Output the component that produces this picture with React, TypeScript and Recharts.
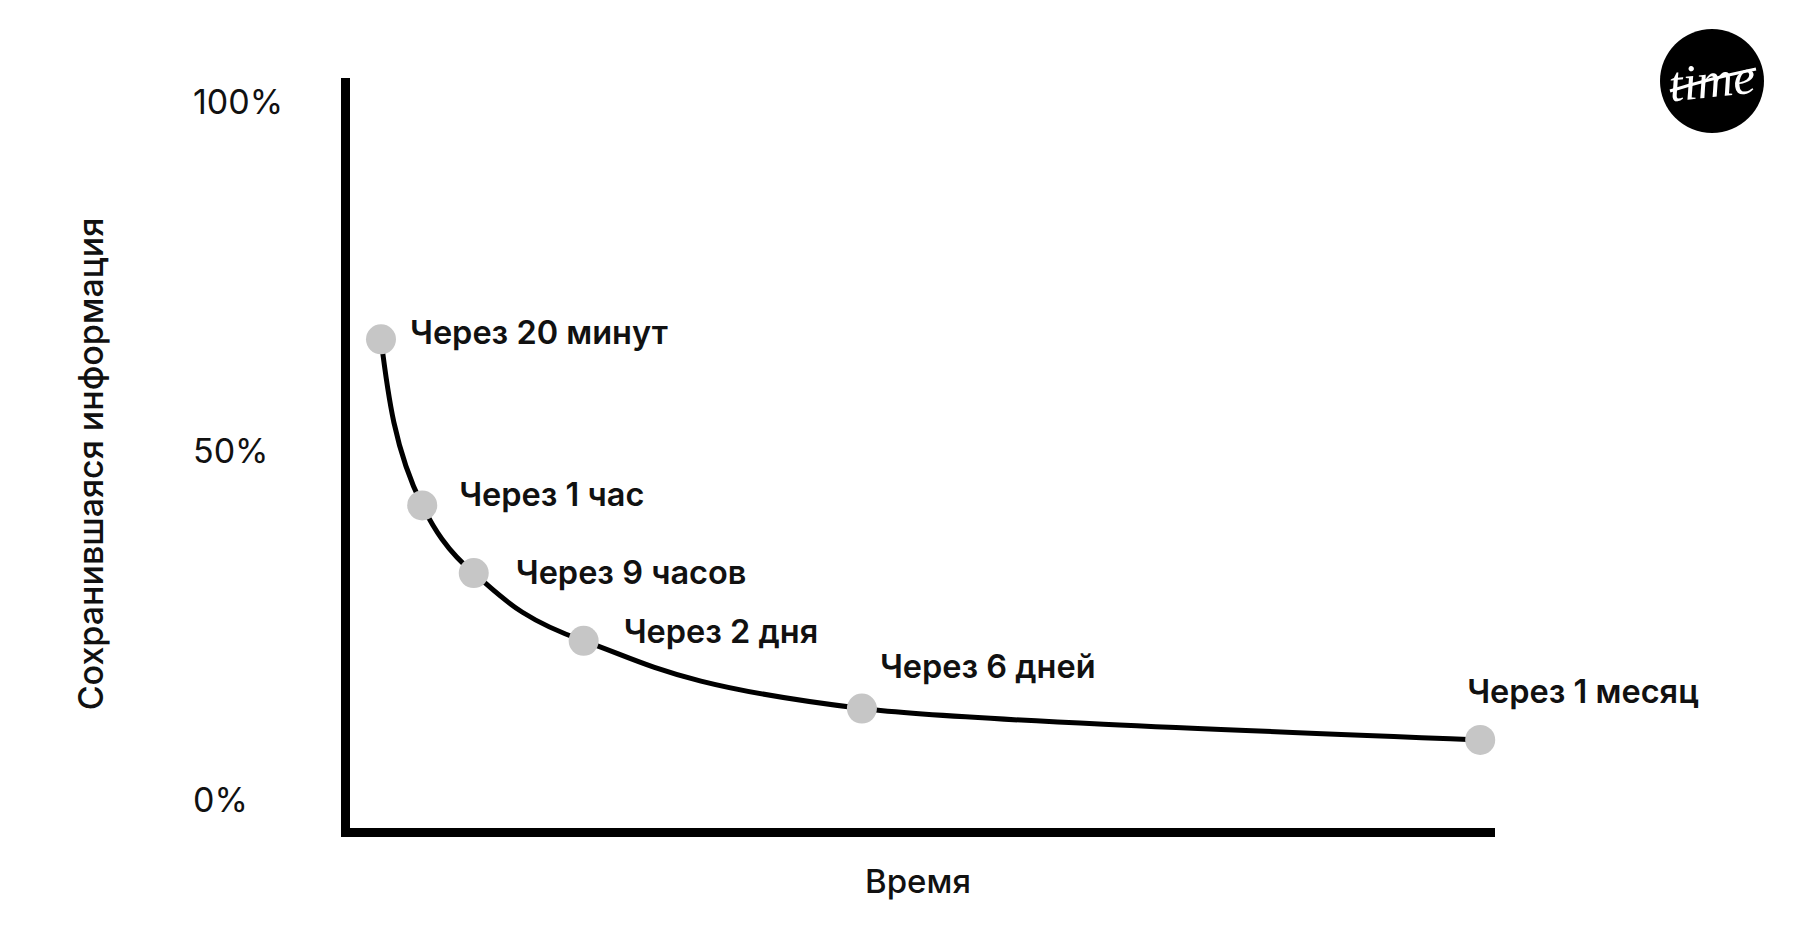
import { LineChart, Line, XAxis, YAxis, LabelList, Label } from 'recharts';

// position along the (unlabelled) time axis, 0..100
const timePos = [3.1, 6.7, 11.2, 20.8, 45.1, 99.1];
// retained information, %
const retained = [66.0, 42.2, 32.5, 22.8, 13.1, 8.6];
const pointLabels = [
  'Через 20 минут',
  'Через 1 час',
  'Через 9 часов',
  'Через 2 дня',
  'Через 6 дней',
  'Через 1 месяц',
];
const yTicks = [0, 50, 100];
const yTickLabels = ['0%', '50%', '100%'];

// where each point label sits relative to its dot (dx, baseline dy)
const labelOffsets = [
  [29, 5],
  [37, 1],
  [42, 11],
  [40, 2],
  [18, -31],
  [-13, -37],
];

const data = timePos.map((t, i) => ({ time: t, value: retained[i], label: pointLabels[i] }));

const FONT = 'Inter, "Noto Sans", sans-serif';
const axisLine = { stroke: '#000', strokeWidth: 9, strokeLinecap: 'square' as const };

const YTick = (props: any) => {
  const idx = yTicks.indexOf(props.payload.value);
  return (
    <text x={193} y={props.y} dy="0.36em" textAnchor="start" fontFamily={FONT} fontSize={34} fill="#111">
      {yTickLabels[idx]}
    </text>
  );
};

const PointLabel = (props: any) => {
  const { x, y, index, value } = props;
  const [dx, dy] = labelOffsets[index];
  return (
    <text x={x + dx} y={y + dy} fontFamily={FONT} fontSize={32.5} fontWeight={600} fill="#111">
      {value}
    </text>
  );
};

const Logo = () => (
  <svg width={108} height={108} style={{ position: 'absolute', left: 1658, top: 27 }}>
    <circle cx={54} cy={54} r={52} fill="#000" />
    <text
      x={54}
      y={70}
      textAnchor="middle"
      fontFamily='"Liberation Serif", serif'
      fontStyle="italic"
      fontSize={50}
      fill="#fff"
      transform="rotate(-6 54 54)"
    >
      time
    </text>
    <path d="M12 64 Q 50 52 98 42" stroke="#fff" strokeWidth={3} fill="none" />
  </svg>
);

export default function App() {
  return (
    <div style={{ position: 'absolute', left: 0, top: 0, width: 1800, height: 945, background: '#fff' }}>
      <LineChart
        width={1800}
        height={945}
        data={data}
        margin={{ top: 82.5, right: 309.5, bottom: 72.5, left: 20 }}
      >
        <XAxis
          type="number"
          dataKey="time"
          domain={[0, 100]}
          tick={false}
          tickLine={false}
          height={40}
          axisLine={axisLine}
        >
          <Label
            content={(p: any) => (
              <text
                x={p.viewBox.x + p.viewBox.width / 2}
                y={893}
                textAnchor="middle"
                fontFamily={FONT}
                fontSize={33}
                fontWeight={500}
                fill="#111"
              >
                Время
              </text>
            )}
          />
        </XAxis>
        <YAxis
          type="number"
          domain={[-4.66, 102.79]}
          allowDataOverflow
          ticks={yTicks}
          tick={<YTick />}
          tickLine={false}
          width={325.5}
          axisLine={axisLine}
        >
          <Label
            content={() => (
              <text
                x={103}
                y={464}
                textAnchor="middle"
                fontFamily={FONT}
                fontSize={34}
                fontWeight={500}
                fill="#111"
                transform="rotate(-90 103 464)"
              >
                Сохранившаяся информация
              </text>
            )}
          />
        </YAxis>
        <Line
          type="monotoneY"
          dataKey="value"
          stroke="#000"
          strokeWidth={5}
          dot={{ r: 15, fill: '#c6c6c6', stroke: 'none' }}
          activeDot={false}
          isAnimationActive={false}
        >
          <LabelList dataKey="label" content={<PointLabel />} />
        </Line>
      </LineChart>
      <Logo />
    </div>
  );
}
